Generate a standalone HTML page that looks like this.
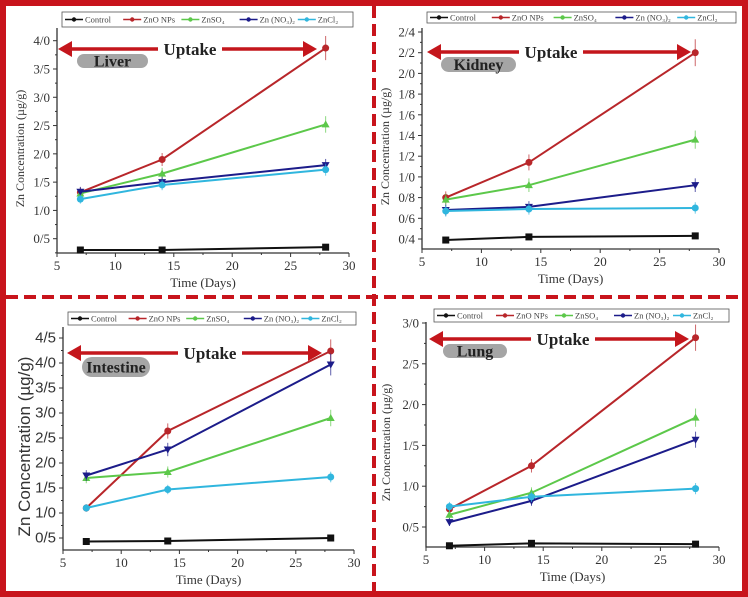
<!DOCTYPE html>
<html><head><meta charset="utf-8"><style>
body{margin:0;background:#fff}
svg{display:block;font-family:"Liberation Serif",serif}
</style></head><body>
<svg id="fig" width="748" height="597" viewBox="0 0 748 597">
<rect x="0" y="0" width="748" height="597" fill="#fff"/>
</svg>
<script>
const days=[7,14,28];
const seriesNames=["Control","ZnO NPs","ZnSO₄","Zn (NO₃)₂","ZnCl₂"];
const liverControl=[0.3,0.3,0.35];
const liverZnO=[1.32,1.9,3.87];
const liverZnSO4=[1.3,1.65,2.52];
const liverZnNO3=[1.33,1.5,1.8];
const liverZnCl2=[1.2,1.45,1.72];
const kidneyControl=[0.39,0.42,0.43];
const kidneyZnO=[0.8,1.14,2.2];
const kidneyZnSO4=[0.78,0.92,1.36];
const kidneyZnNO3=[0.68,0.71,0.92];
const kidneyZnCl2=[0.67,0.69,0.70];
const intestineControl=[0.43,0.44,0.5];
const intestineZnO=[1.1,2.64,4.24];
const intestineZnSO4=[1.7,1.82,2.9];
const intestineZnNO3=[1.75,2.27,3.97];
const intestineZnCl2=[1.1,1.47,1.72];
const lungControl=[0.27,0.3,0.29];
const lungZnO=[0.72,1.25,2.82];
const lungZnSO4=[0.65,0.92,1.84];
const lungZnNO3=[0.56,0.82,1.57];
const lungZnCl2=[0.75,0.87,0.97];
const xTicks=[5,10,15,20,25,30];
const liverYTicks=["0/5","1/0","1/5","2/0","2/5","3/0","3/5","4/0"];
const kidneyYTicks=["0/4","0/6","0/8","1/0","1/2","1/4","1/6","1/8","2/0","2/2","2/4"];
const intestineYTicks=["0/5","1/0","1/5","2/0","2/5","3/0","3/5","4/0","4/5"];
const lungYTicks=["0/5","1/0","1/5","2/0","2/5","3/0"];

const NS="http://www.w3.org/2000/svg";
const svg=document.getElementById('fig');
const colors=["#111","#b8262a","#5cc84a","#1c1c8a","#30b6de"];
function mk(tag,attrs,parent,text){const e=document.createElementNS(NS,tag);for(const k in attrs)e.setAttribute(k,attrs[k]);if(text!==undefined)e.textContent=text;(parent||svg).appendChild(e);return e;}

function panel(o){
  const g=mk('g',{});
  
  
  const sx=v=>o.x0+(v-5)/25*(o.x1-o.x0);
  const sy=v=>o.yAt0+(v-o.t0)/(o.t1-o.t0)*(o.yAt1-o.yAt0);
  // axes
  const ax=mk('path',{d:`M${o.x0},${o.top}V${o.axY}H${o.x1}`,stroke:'#333','stroke-width':1.3,fill:'none'},g);
  
  
  xTicks.forEach((t,i)=>{
    const x=sx(t);
    mk('line',{x1:x,x2:x,y1:o.axY,y2:o.axY+4,stroke:'#333'},g);
    if(i<xTicks.length-1) mk('line',{x1:sx(t+2.5),x2:sx(t+2.5),y1:o.axY,y2:o.axY+2,stroke:'#333'},g);
    const tl=mk('text',{x:x,y:o.axY+17,'text-anchor':'middle','font-size':13,fill:'#333'},g,String(t));
    
    
  });
  const step=o.tickStep;
  o.yTicks.forEach((lab,i)=>{
    const v=o.t0+i*step, y=sy(v);
    mk('line',{x1:o.x0-4,x2:o.x0,y1:y,y2:y,stroke:'#333'},g);
    const ym=sy(v-step/2);
    if(ym<o.axY) mk('line',{x1:o.x0-2,x2:o.x0,y1:ym,y2:ym,stroke:'#333'},g);
    const tl=mk('text',{x:o.x0-7,y:y+4.5,'text-anchor':'end','font-size':o.sans?15:13,'font-family':o.sans?'Liberation Sans, sans-serif':'Liberation Serif, serif',fill:'#333'},g,lab);
    
    
  });
  const xt=mk('text',{x:(o.x0+o.x1)/2,y:o.axY+34,'text-anchor':'middle','font-size':13,fill:'#333'},g,'Time (Days)');
  
  
  const ytx=o.ytx, yty=(o.top+o.axY)/2+8;
  const yt=mk('text',{x:ytx,y:yty,'text-anchor':'middle','font-size':o.sans?17:12,'font-family':o.sans?'Liberation Sans, sans-serif':'Liberation Serif, serif',fill:'#333',transform:`rotate(-90 ${ytx} ${yty})`},g,'Zn Concentration (µg/g)');
  
  
  // uptake arrow
  const ar=mk('g',{},g);
  
  
  mk('line',{x1:o.ar[0]+10,x2:o.ar[1]-10,y1:o.ar[2],y2:o.ar[2],stroke:'#c4161c','stroke-width':3.5},ar);
  mk('path',{d:`M${o.ar[0]},${o.ar[2]}l14,-8v16z`,fill:'#c4161c'},ar);
  mk('path',{d:`M${o.ar[1]},${o.ar[2]}l-14,-8v16z`,fill:'#c4161c'},ar);
  const uw=64,ux=o.ar[3];
  mk('rect',{x:ux-uw/2,y:o.ar[2]-9,width:uw,height:18,fill:'#fff'},ar);
  mk('text',{x:ux,y:o.ar[2]+6,'text-anchor':'middle','font-size':17,'font-weight':'bold',fill:'#222'},ar,'Uptake');
  // pill
  const p=o.pill;
  const pg=mk('g',{},g);
  
  
  mk('rect',{x:p[0],y:p[1],width:p[2]-p[0],height:p[3]-p[1],rx:(p[3]-p[1])/2,fill:'#a5a5a5'},pg);
  mk('text',{x:(p[0]+p[2])/2,y:(p[1]+p[3])/2+5.5,'text-anchor':'middle','font-size':16,'font-weight':'bold',fill:'#222'},pg,o.label);
  // series
  o.data.forEach((vals,si)=>{
    const sg=mk('g',{},g);
    
    
    const pts=vals.map((v,i)=>[sx(days[i]),sy(v)]);
    mk('polyline',{points:pts.map(q=>q.join(',')).join(' '),fill:'none',stroke:colors[si],'stroke-width':2},sg);
    pts.forEach((q,i)=>{
      if(si>0){const e=vals[i]*0.05+0.02; mk('line',{x1:q[0],x2:q[0],y1:sy(vals[i]+e),y2:sy(vals[i]-e),stroke:colors[si],'stroke-width':1,opacity:0.7},sg);}
      let m;
      if(si===0) m=mk('rect',{x:q[0]-3.5,y:q[1]-3.5,width:7,height:7,fill:colors[0]},sg);
      else if(si===2) m=mk('path',{d:`M${q[0]},${q[1]-4}l4,7h-8z`,fill:colors[2]},sg);
      else if(si===3) m=mk('path',{d:`M${q[0]},${q[1]+4}l4,-7h-8z`,fill:colors[3]},sg);
      else m=mk('circle',{cx:q[0],cy:q[1],r:3.5,fill:colors[si]},sg);
      
      
    });
  });
  // legend
  const L=o.leg;
  const lg=mk('g',{},g);
  
  
  mk('rect',{x:L[0],y:L[1],width:L[2]-L[0],height:L[3]-L[1],fill:'#fff',stroke:'#555','stroke-width':0.8},lg);
  const w=(L[2]-L[0])/5, cy=(L[1]+L[3])/2;
  seriesNames.forEach((n,i)=>{
    const x=L[0]+i*w+3;
    const e=mk('g',{},lg);
    
    
    mk('line',{x1:x,x2:x+18,y1:cy,y2:cy,stroke:colors[i],'stroke-width':1.5},e);
    mk('circle',{cx:x+9,cy:cy,r:2.2,fill:colors[i]},e);
    mk('text',{x:x+20,y:cy+3,'font-size':8.5,fill:'#444'},e,n);
  });
}

panel({name:'liver',label:'Liver',x0:57,x1:349,axY:253,top:28,t0:0.5,t1:4.0,yAt0:238.7,yAt1:40.7,tickStep:0.5,yTicks:liverYTicks,
  data:[liverControl,liverZnO,liverZnSO4,liverZnNO3,liverZnCl2],ar:[58,317,49,190],pill:[77,54,148,68],leg:[62,12,353,27],ytx:24});
panel({name:'kidney',label:'Kidney',x0:422,x1:719,axY:249,top:28,t0:0.4,t1:2.4,yAt0:239,yAt1:32,tickStep:0.2,yTicks:kidneyYTicks,
  data:[kidneyControl,kidneyZnO,kidneyZnSO4,kidneyZnNO3,kidneyZnCl2],ar:[427,691,52,551],pill:[441,57,516,72],leg:[427,12,736,23],ytx:389});
panel({name:'intestine',label:'Intestine',x0:63,x1:354,axY:550,top:327,t0:0.5,t1:4.5,yAt0:538,yAt1:338,tickStep:0.5,yTicks:intestineYTicks,sans:true,
  data:[intestineControl,intestineZnO,intestineZnSO4,intestineZnNO3,intestineZnCl2],ar:[67,322,353,210],pill:[82,357,150,377],leg:[68,312,356,325],ytx:30});
panel({name:'lung',label:'Lung',x0:426,x1:719,axY:547,top:322,t0:0.5,t1:3.0,yAt0:527,yAt1:323,tickStep:0.5,yTicks:lungYTicks,
  data:[lungControl,lungZnO,lungZnSO4,lungZnNO3,lungZnCl2],ar:[429,689,339,563],pill:[443,344,507,358],leg:[434,309,729,322],ytx:390});

// frame
const fr=mk('rect',{x:3,y:3,width:742,height:591,fill:'none',stroke:'#c8141c','stroke-width':6});


const dv=mk('line',{x1:374,x2:374,y1:6,y2:591,stroke:'#c8141c','stroke-width':4,'stroke-dasharray':'12 6'});


const dh=mk('line',{x1:6,x2:742,y1:297,y2:297,stroke:'#c8141c','stroke-width':4,'stroke-dasharray':'12 6'});


</script>
</body></html>
